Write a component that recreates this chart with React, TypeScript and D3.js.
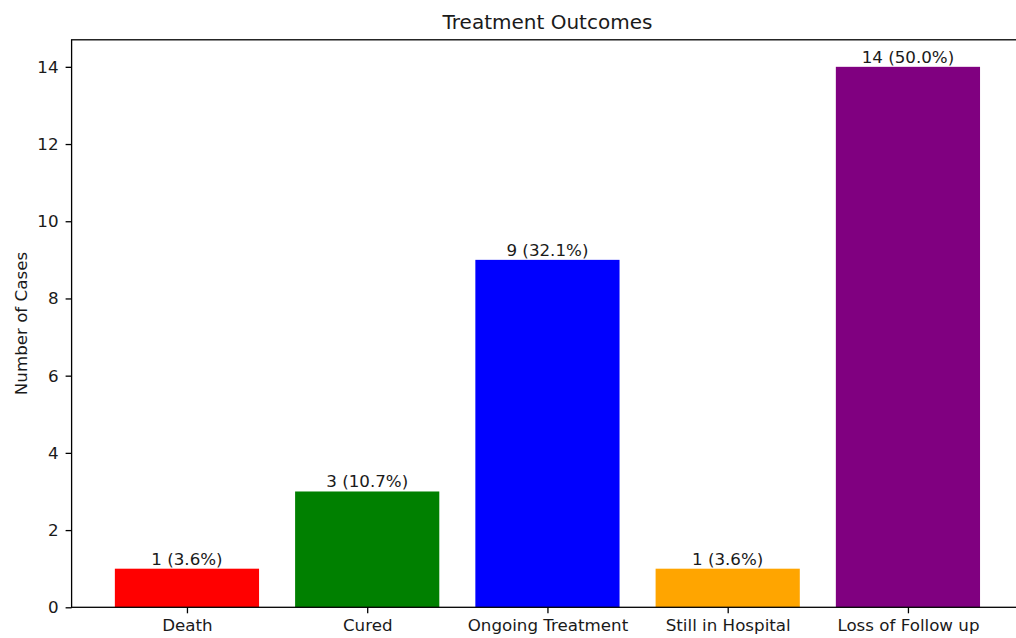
import * as d3 from 'd3';
import React, { useEffect, useRef } from 'react';

// Treatment outcome counts
const categories = [
  'Death',
  'Cured',
  'Ongoing Treatment',
  'Still in Hospital',
  'Loss of Follow up'
];
const counts = [1, 3, 9, 1, 14];
const barColors = ['#ff0000', '#008000', '#0000ff', '#ffa500', '#800080'];
const yTicks = [0, 2, 4, 6, 8, 10, 12, 14];

const width = 1016;
const height = 638;
const font = '"DejaVu Sans", Verdana, sans-serif';

export default function App() {
  const svgRef = useRef<SVGSVGElement>(null);

  useEffect(() => {
    const svg = d3.select(svgRef.current);
    svg.selectAll('*').remove();

    const total = d3.sum(counts);

    // matplotlib style limits: bars at integer positions, width 0.8, 5% margins
    const x = d3.scaleLinear().domain([-0.64, 4.64]).range([71.6, 1023.3]);
    const y = d3.scaleLinear().domain([0, 14.7]).range([607.3, 39.8]);
    const barW = x(0.8) - x(0);

    // bars
    svg
      .append('g')
      .selectAll('rect')
      .data(counts)
      .join('rect')
      .attr('x', (_d, i) => x(i) - barW / 2)
      .attr('y', (d) => y(d))
      .attr('width', barW)
      .attr('height', (d) => y(0) - y(d))
      .attr('fill', (_d, i) => barColors[i]);

    // value labels above each bar
    svg
      .append('g')
      .selectAll('text')
      .data(counts)
      .join('text')
      .attr('x', (_d, i) => x(i))
      .attr('y', (d) => y(d) - 4)
      .attr('text-anchor', 'middle')
      .attr('font-family', font)
      .attr('font-size', 16.7)
      .attr('fill', '#1a1a1a')
      .text((d) => `${d} (${((d / total) * 100).toFixed(1)}%)`);

    // y axis
    const yAxis = d3
      .axisLeft(y)
      .tickValues(yTicks)
      .tickSize(6)
      .tickSizeOuter(0)
      .tickPadding(7)
      .tickFormat((d) => String(d));
    const gy = svg
      .append('g')
      .attr('transform', `translate(${x.range()[0]},0)`)
      .call(yAxis);
    gy.select('.domain').remove();
    gy.selectAll('line').attr('stroke', '#000').attr('stroke-width', 1.3);
    gy.selectAll('text')
      .attr('font-family', font)
      .attr('font-size', 16.7)
      .attr('fill', '#1a1a1a');

    // x axis with category labels
    const xAxis = d3
      .axisBottom(x)
      .tickValues(categories.map((_c, i) => i))
      .tickSize(6)
      .tickSizeOuter(0)
      .tickPadding(6)
      .tickFormat((_d, i) => categories[i]);
    const gx = svg
      .append('g')
      .attr('transform', `translate(0,${y(0)})`)
      .call(xAxis);
    gx.select('.domain').remove();
    gx.selectAll('line').attr('stroke', '#000').attr('stroke-width', 1.3);
    gx.selectAll('text')
      .attr('font-family', font)
      .attr('font-size', 16.7)
      .attr('fill', '#1a1a1a');

    // axes frame (right spine falls just off the canvas)
    svg
      .append('rect')
      .attr('x', x.range()[0])
      .attr('y', y.range()[1])
      .attr('width', x.range()[1] - x.range()[0])
      .attr('height', y.range()[0] - y.range()[1])
      .attr('fill', 'none')
      .attr('stroke', '#000')
      .attr('stroke-width', 1.3);

    // title
    svg
      .append('text')
      .attr('x', (x.range()[0] + x.range()[1]) / 2)
      .attr('y', 29)
      .attr('text-anchor', 'middle')
      .attr('font-family', font)
      .attr('font-size', 20)
      .attr('fill', '#1a1a1a')
      .text('Treatment Outcomes');

    // y axis label
    svg
      .append('text')
      .attr('transform', `translate(27,${(y.range()[0] + y.range()[1]) / 2}) rotate(-90)`)
      .attr('text-anchor', 'middle')
      .attr('font-family', font)
      .attr('font-size', 16.7)
      .attr('fill', '#1a1a1a')
      .text('Number of Cases');
  }, []);

  return (
    <svg
      ref={svgRef}
      width={width}
      height={height}
      style={{ position: 'absolute', left: 0, top: 0, background: '#fff' }}
    ></svg>
  );
}
